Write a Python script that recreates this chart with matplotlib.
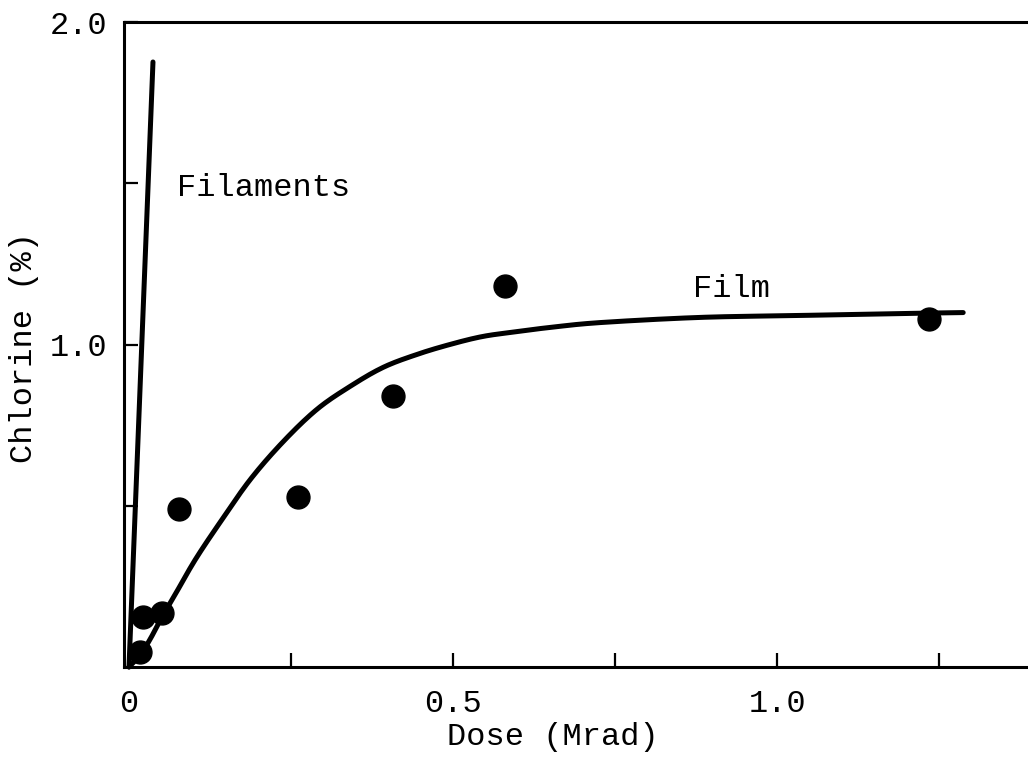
import matplotlib
matplotlib.use("Agg")
import matplotlib.pyplot as plt
import numpy as np

# Measured chlorine content versus dose for the film samples
dose_film = [0.017, 0.022, 0.051, 0.077, 0.261, 0.407, 0.580, 1.235]
chlorine_film = [0.047, 0.155, 0.168, 0.49, 0.528, 0.839, 1.18, 1.078]

# Trend drawn through the film data
curve_dose = [0, 0.017, 0.032, 0.051, 0.071, 0.102, 0.140, 0.187, 0.238, 0.290,
              0.341, 0.392, 0.444, 0.495, 0.546, 0.599, 0.650, 0.727, 0.881,
              1.035, 1.190, 1.287]
curve_chlorine = [0, 0.037, 0.084, 0.155, 0.224, 0.332, 0.447, 0.581, 0.699,
                  0.799, 0.870, 0.929, 0.969, 1.000, 1.025, 1.040, 1.053,
                  1.068, 1.084, 1.090, 1.096, 1.099]

# Straight line for the filaments
filament_dose = [0, 0.037]
filament_chlorine = [0, 1.876]

x_ticks = [0, 0.25, 0.5, 0.75, 1.0, 1.25]
x_ticklabels = ["0", "", "0.5", "", "1.0", ""]
y_ticks = [0.5, 1.0, 1.5, 2.0]
y_ticklabels = ["", "1.0", "", "2.0"]


def catmull_rom(xs, ys, n=20):
    """Smooth pen stroke through the given control points."""
    p = np.column_stack([xs, ys]).astype(float)
    p = np.vstack([p[0], p, p[-1]])
    out = []
    t = np.linspace(0, 1, n, endpoint=False)[:, None]
    for i in range(1, len(p) - 2):
        p0, p1, p2, p3 = p[i - 1], p[i], p[i + 1], p[i + 2]
        seg = 0.5 * ((2 * p1) + (-p0 + p2) * t
                     + (2 * p0 - 5 * p1 + 4 * p2 - p3) * t ** 2
                     + (-p0 + 3 * p1 - 3 * p2 + p3) * t ** 3)
        out.append(seg)
    out.append(p[-2][None, :])
    out = np.vstack(out)
    return out[:, 0], out[:, 1]


mono = ["Liberation Mono", "DejaVu Sans Mono"]
plt.rcParams["font.family"] = mono
fs = 23

fig = plt.figure(figsize=(10.28, 7.58), dpi=100)
ax = fig.add_axes([124 / 1028, 91 / 758, 904 / 1028, 645 / 758])

cx, cy = catmull_rom(curve_dose, curve_chlorine)
ax.plot(cx, cy, color="black", lw=3.6, solid_capstyle="round",
        clip_on=False, zorder=3)
ax.plot(filament_dose, filament_chlorine, color="black", lw=3.6,
        solid_capstyle="round", clip_on=False, zorder=3)
ax.plot(dose_film, chlorine_film, "o", color="black", ms=16.5,
        clip_on=False, zorder=4)

ax.set_xlim(-0.0077, 1.387)
ax.set_ylim(0, 2.0)

ax.set_xticks(x_ticks)
ax.set_xticklabels(x_ticklabels)
ax.set_yticks(y_ticks)
ax.set_yticklabels(y_ticklabels)

ax.tick_params(axis="both", direction="in", length=10, width=1.6,
               labelsize=fs, colors="black")
ax.tick_params(axis="x", pad=16)
ax.tick_params(axis="y", pad=12)

for side in ["left", "bottom", "top"]:
    ax.spines[side].set_linewidth(2.2)
ax.spines["right"].set_visible(False)

ax.text(0.870, 1.146, "Film", fontsize=fs, ha="left", va="baseline")
ax.text(0.074, 1.46, "Filaments", fontsize=fs, ha="left", va="baseline")

ax.set_xlabel("Dose (Mrad)", fontsize=fs)
ax.xaxis.set_label_coords((553 - 124) / 904, -(737 - 667) / 645)
ax.xaxis.label.set_va("center")
ax.set_ylabel("Chlorine (%)", fontsize=fs)
ax.yaxis.set_label_coords(-(124 - 24) / 904, (667 - 347) / 645)
ax.yaxis.label.set_va("center")

fig.savefig("out.png", dpi=100)
